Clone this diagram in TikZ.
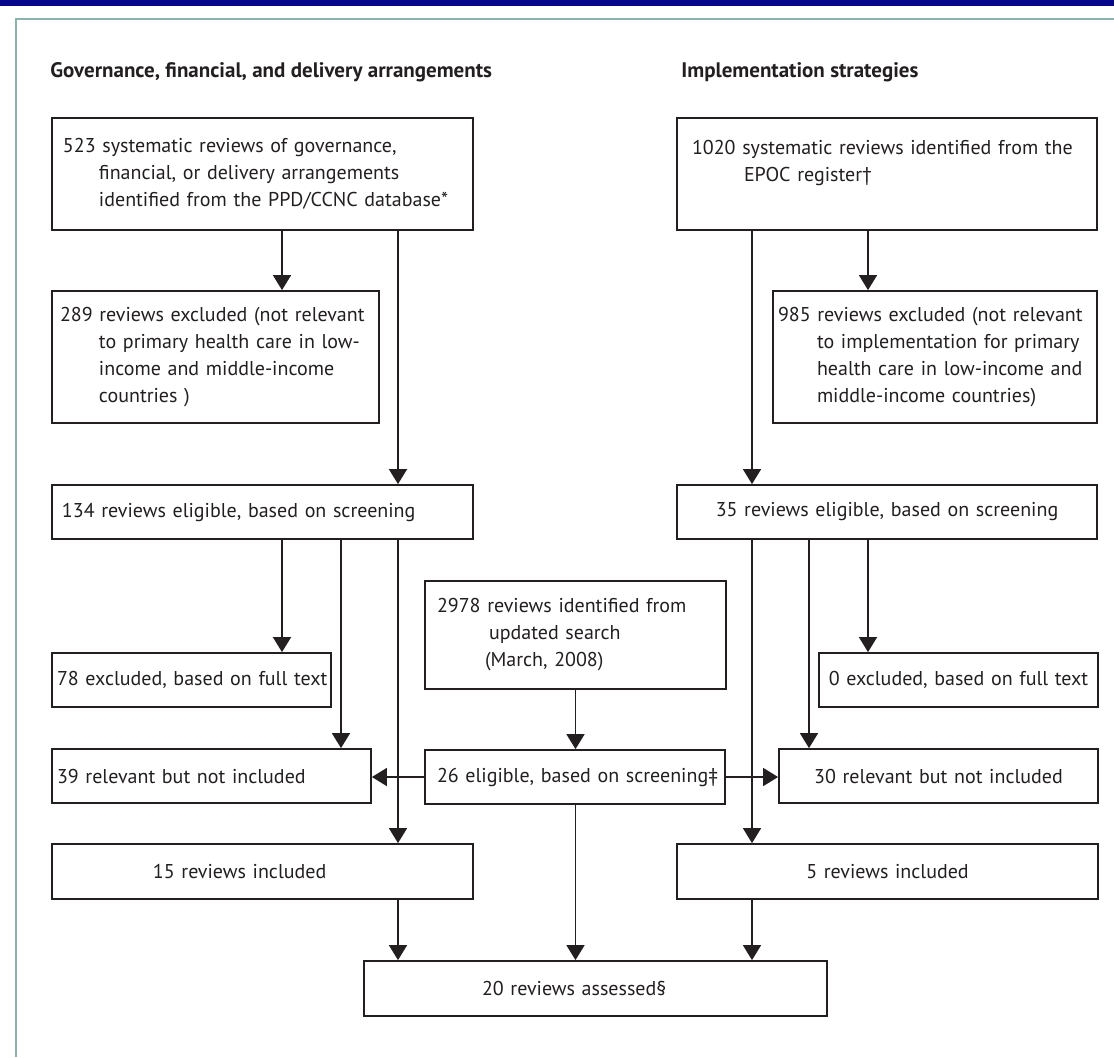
\documentclass[tikz,border=0pt]{standalone}
\usepackage{fontspec}
\setmainfont{PT Sans}
\usepackage{tikz}
\usetikzlibrary{arrows.meta, calc}
\definecolor{lancetblue}{HTML}{06068C}
\definecolor{frameteal}{HTML}{8CB2AC}
\definecolor{ink}{HTML}{231F20}

\begin{document}
\begin{tikzpicture}[x=0.5pt, y=-0.5pt, >={Triangle[width=9pt,length=7.5pt]},
    box/.style={draw=ink, line width=0.9pt, inner ysep=0pt, text=ink,
        font=\fontsize{10}{13.5}\selectfont, align=left},
    lbox/.style={box, inner xsep=0pt,
        execute at begin node={\leftskip=#1\rightskip=0pt plus 1fil minus 1000pt}},
    cbox/.style={box, inner xsep=0pt, align=center},
    head/.style={anchor=west, inner sep=0pt, text=ink, font=\fontsize{10.5}{13.5}\selectfont\bfseries},
    flow/.style={->, draw=ink, line width=0.8pt}]

    \useasboundingbox (0,0) rectangle (1114,1057);
    \fill[white] (0,0) rectangle (1114,1057);
    \fill[lancetblue] (0,0) rectangle (1114,6);
    \draw[frameteal, line width=1pt] (16,1057) -- (16,19) -- (1114,19);

    \node[head] (hgov) at (50,72) {Governance, financial, and delivery arrangements};
    \node[head] (himp) at (681,72) {Implementation strategies};

    \node[lbox=5.5pt, minimum height=56pt, text width=210.5pt] (ppd) at (262.5,174)
        {523 systematic reviews of governance,\\\hspace*{18pt}financial, or delivery arrangements\\\hspace*{18pt}identified from the PPD/CCNC database*};
    \node[lbox=7.5pt, minimum height=56pt, text width=210pt] (epoc) at (887,174)
        {1020 systematic reviews identified from the\\\hspace*{26pt}EPOC register†\\\mbox{}};
    \node[lbox=4pt, minimum height=66pt, text width=163.5pt] (exgov) at (215.5,357)
        {289 reviews excluded (not relevant\\\hspace*{19.5pt}to primary health care in low-\\\hspace*{19.5pt}income and middle-income\\\hspace*{19.5pt}countries )};
    \node[lbox=2.5pt, minimum height=66pt, text width=162pt] (eximp) at (935,357)
        {985 reviews excluded (not relevant\\\hspace*{19.5pt}to implementation for primary\\\hspace*{19.5pt}health care in low-income and\\\hspace*{19.5pt}middle-income countries)};

    \node[lbox=5pt, minimum height=27pt, text width=210.5pt] (elgov) at (262.5,512)
        {134 reviews eligible, based on screening};
    \node[cbox, minimum height=27pt, text width=210pt] (elimp) at (887,512)
        {35 reviews eligible, based on screening};

    \node[lbox=6pt, minimum height=54pt, text width=150.5pt] (upd) at (575.5,635)
        {2978 reviews identified from\\\hspace*{26pt}updated search\\\hspace*{24pt}(March, 2008)};

    \node[lbox=2.5pt, minimum height=27pt, text width=139.5pt] (ftgov) at (191.5,680)
        {78 excluded, based on full text};
    \node[cbox, minimum height=27pt, text width=139.5pt] (ftimp) at (958.5,680)
        {0 excluded, based on full text};

    \node[lbox=2.5pt, minimum height=27pt, text width=159.5pt] (relgov) at (211.5,776)
        {39 relevant but not included};
    \node[lbox=6pt, minimum height=27pt, text width=150pt] (elupd) at (575,777)
        {26 eligible, based on screening‡};
    \node[cbox, minimum height=27pt, text width=159.5pt] (relimp) at (938.5,776)
        {30 relevant but not included};

    \node[lbox=50.5pt, minimum height=27.5pt, text width=210.5pt] (ingov) at (262.5,871.5)
        {15 reviews included};
    \node[cbox, minimum height=27.5pt, text width=210.5pt] (inimp) at (887.5,871.5)
        {5 reviews included};

    \node[lbox=59pt, minimum height=27.5pt, text width=231.5pt] (assessed) at (595.5,988.5)
        {20 reviews assessed§};

    \coordinate (c1) at (282,0);
    \coordinate (c2) at (341,0);
    \coordinate (c3) at (398,0);
    \coordinate (c4) at (575.5,0);
    \coordinate (c5) at (752,0);
    \coordinate (c6) at (809,0);
    \coordinate (c7) at (868,0);

    \draw[flow] (ppd.south -| c1) -- (exgov.north -| c1);
    \draw[flow] (ppd.south -| c3) -- (elgov.north -| c3);
    \draw[flow] (epoc.south -| c5) -- (elimp.north -| c5);
    \draw[flow] (epoc.south -| c7) -- (eximp.north -| c7);

    \draw[flow] (elgov.south -| c1) -- (ftgov.north -| c1);
    \draw[flow] (elgov.south -| c2) -- (relgov.north -| c2);
    \draw[flow] (elgov.south -| c3) -- (ingov.north -| c3);
    \draw[flow] (elimp.south -| c5) -- (inimp.north -| c5);
    \draw[flow] (elimp.south -| c6) -- (relimp.north -| c6);
    \draw[flow] (elimp.south -| c7) -- (ftimp.north -| c7);

    \draw[flow] (upd.south -| c4) -- (elupd.north -| c4);
    \draw[flow] (elupd.west) -- (elupd.west -| relgov.east);
    \draw[flow] (elupd.east) -- (elupd.east -| relimp.west);
    \draw[flow] (elupd.south -| c4) -- (assessed.north -| c4);

    \draw[flow] (ingov.south -| c3) -- (assessed.north -| c3);
    \draw[flow] (inimp.south -| c5) -- (assessed.north -| c5);

\end{tikzpicture}
\end{document}
